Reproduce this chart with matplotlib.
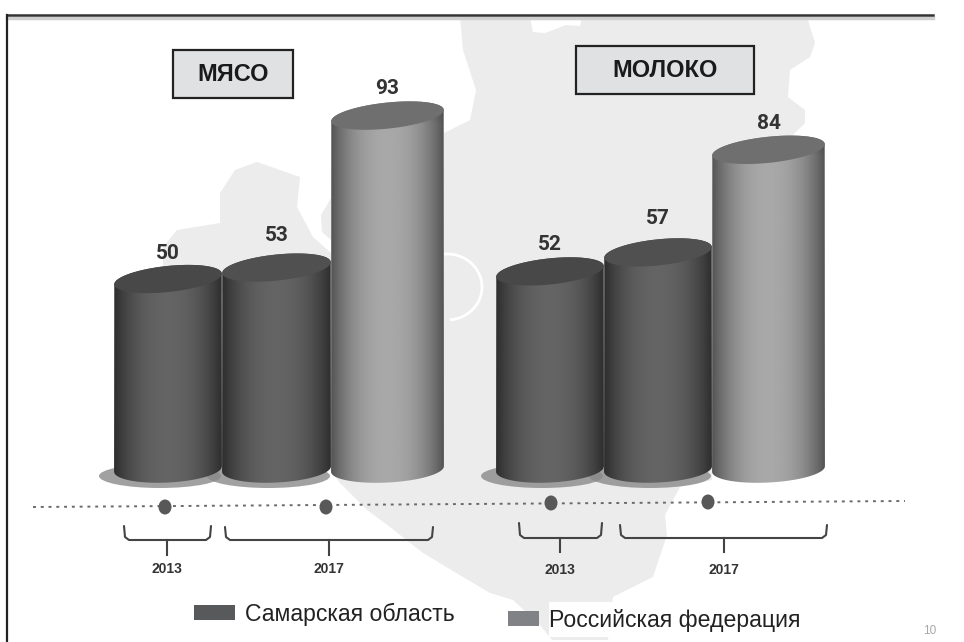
import numpy as np
import matplotlib
matplotlib.use("Agg")
import matplotlib.pyplot as plt
from matplotlib.patches import Polygon, Rectangle, Ellipse

# ---- data
groups = ["МЯСО", "МОЛОКО"]
meat_values = [50, 53, 93]
milk_values = [52, 57, 84]
bar_years = ["2013", "2017"]
legend_labels = ["Самарская область", "Российская федерация"]
page_number = "10"

# ---- layout (pixels of the 964x642 picture)
W, H = 964, 642
BASE_PX = 469.0
PX_PER_UNIT = 3.8
meat_left = [114, 222, 331]
meat_right = [222, 331, 444]
milk_left = [496, 604, 712]
milk_right = [604, 712, 825]

plt.rcParams["font.family"] = ["Liberation Sans", "DejaVu Sans"]
fig = plt.figure(figsize=(W / 100, H / 100), dpi=100, facecolor="white")
ax = fig.add_axes([0, 0, 1, 1])
ax.axis("off")


def set_limits():
    ax.set_xlim(0, W)
    ax.set_ylim((BASE_PX - H) / PX_PER_UNIT, BASE_PX / PX_PER_UNIT)


def py(p):
    """picture pixel row -> value axis"""
    return (BASE_PX - p) / PX_PER_UNIT


def pts(seq):
    return [(x, py(y)) for x, y in seq]


set_limits()

# ---- pale map
map_main = [(460, 17), (807, 17), (815, 43), (810, 57), (790, 70), (788, 97), (805, 110),
            (805, 123), (793, 135), (712, 160), (712, 480), (680, 487), (665, 515),
            (667, 535), (653, 577), (613, 597), (608, 640), (552, 640), (540, 625),
            (513, 600), (490, 593), (463, 577), (423, 553), (390, 527), (367, 510),
            (340, 483), (330, 470), (444, 300), (444, 133), (470, 120), (476, 90), (463, 50)]
map_left = [(235, 170), (257, 162), (300, 177), (297, 207), (313, 237), (331, 253),
            (331, 300), (240, 300), (163, 270), (163, 247), (177, 230), (220, 223), (220, 193)]
map_sliver = [(331, 198), (331, 240), (322, 232), (321, 215)]
for poly in (map_main, map_left, map_sliver):
    ax.add_patch(Polygon(pts(poly), closed=True, fc="#ececec", ec="none", zorder=1))
notch = [(530, 17), (582, 17), (580, 26), (566, 25), (545, 33), (533, 32)]
ax.add_patch(Polygon(pts(notch), closed=True, fc="white", ec="none", zorder=1.1))
ring_t = np.linspace(-1.45, 1.9, 60)
ax.plot(447 + 35 * np.cos(ring_t), py(287) + 33 * np.sin(ring_t) / PX_PER_UNIT,
        color="white", lw=2, zorder=1.2)

# ---- frame and header rule
ax.plot([7, 933], [py(18), py(18)], color="#cfcfcf", lw=2.5, zorder=2)
ax.plot([7, 933], [py(15), py(15)], color="#333333", lw=1.8, zorder=3)
ax.plot([7, 7], [py(15), py(642)], color="#222222", lw=1.6, zorder=3)


def ellipse_xy(cx, cy_px, rx, ry, tilt_deg, n=120):
    t = np.linspace(0, 2 * np.pi, n)
    a = np.deg2rad(tilt_deg)
    ex, ey = rx * np.cos(t), ry * np.sin(t)
    return cx + ex * np.cos(a) - ey * np.sin(a), cy_px + ex * np.sin(a) + ey * np.cos(a)


def cylinder(x0, x1, value, edge, mid, top_col, z, shadow):
    cx, rx = (x0 + x1) / 2, (x1 - x0) / 2
    top_px = BASE_PX - value * PX_PER_UNIT
    if shadow:
        ax.add_patch(Ellipse((cx - 8, py(BASE_PX + 7)), x1 - x0 + 14, 24 / PX_PER_UNIT,
                             fc="#8a8a8a", ec="none", alpha=.8, zorder=4))
    bx, by = ellipse_xy(cx, BASE_PX, rx, 13.5, -3)
    tx, ty = ellipse_xy(cx, top_px, rx, 13, -6)
    lower = list(zip(bx[:61], by[:61]))
    upper = list(zip(tx[60:], ty[60:]))
    outline = Polygon(pts(lower + upper), closed=True, fc="none", ec="none")
    ax.add_patch(outline)
    u = np.linspace(0, 1, 200)
    shade = 1 - np.abs(2 * u - 1) ** 2.2
    col = edge + (mid - edge) * shade
    rows = np.linspace(1, 0, 100)[:, None]
    fade = 1 - 0.22 * np.clip((rows - .93) / .07, 0, 1)
    im = ax.imshow(col[None, :] * fade, cmap="gray", vmin=0, vmax=255, aspect="auto",
                   extent=(x0, x1, py(BASE_PX + 20), py(top_px - 20)), zorder=z,
                   interpolation="bilinear")
    im.set_clip_path(outline)
    ax.fill(tx, py(ty), color=top_col, lw=0, zorder=z + .1)


styles = [(46, 100, "#484848", True), (46, 100, "#505050", True), (84, 168, "#6f6f6f", False)]
for lefts, rights, vals in ((meat_left, meat_right, meat_values), (milk_left, milk_right, milk_values)):
    for i, (a, b, v) in enumerate(zip(lefts, rights, vals)):
        e, m, t, s = styles[i]
        cylinder(a, b, v, e, m, t, 5 + i, s)
set_limits()

# ---- value labels
label_lift = [[26, 32, 27], [27, 34, 26]]
for lefts, rights, vals, lift in ((meat_left, meat_right, meat_values, label_lift[0]),
                                  (milk_left, milk_right, milk_values, label_lift[1])):
    for a, b, v, d in zip(lefts, rights, vals, lift):
        ax.text((a + b) / 2, v + d / PX_PER_UNIT, str(v), ha="center", va="center",
                fontsize=15, fontweight="bold", color="#333333",
                family=["Roboto", "DejaVu Sans"], zorder=12)

# ---- title boxes
for name, (x0, y0, x1, y1) in zip(groups, [(173, 50, 293, 98), (576, 46, 754, 94)]):
    ax.add_patch(Rectangle((x0, py(y1)), x1 - x0, (y1 - y0) / PX_PER_UNIT, fc="#e0e1e3",
                           ec="#222222", lw=1.6, zorder=12))
    ax.text((x0 + x1) / 2, py((y0 + y1) / 2), name, ha="center", va="center", fontsize=17,
            fontweight="bold", color="#1a1a1a", zorder=13)

# ---- dotted timeline
ax.plot([33, 905], [py(507), py(501)], color="#6a6a6a", lw=1.4, ls=(0, (1.5, 2.5)), zorder=8)
for x, y in [(165, 507), (326, 507), (551, 503), (708, 502)]:
    ax.add_patch(Ellipse((x, py(y)), 13, 15 / PX_PER_UNIT, fc="#585858", ec="none", zorder=9))


# ---- year brackets
def bracket(x0, x1, xm, ytop, ymid, ybot, label, ylab):
    ax.plot([x0, x0 + 1, x0 + 5, x1 - 5, x1 - 1, x1],
            [py(ytop), py(ymid - 3), py(ymid), py(ymid), py(ymid - 3), py(ytop)],
            color="#444444", lw=1.5, zorder=9, solid_capstyle="round")
    ax.plot([xm, xm], [py(ymid), py(ybot)], color="#444444", lw=1.5, zorder=9)
    ax.text(xm, py(ylab), label, ha="center", va="center", fontsize=10, fontweight="bold",
            color="#333333", zorder=9)


bracket(124, 211, 167, 526, 540, 555, bar_years[0], 569)
bracket(225, 433, 329, 527, 540, 555, bar_years[1], 569)
bracket(519, 602, 560, 523, 538, 552, bar_years[0], 570)
bracket(620, 827, 724, 525, 538, 552, bar_years[1], 570)

# ---- legend
ax.add_patch(Rectangle((194, py(620)), 41, 15 / PX_PER_UNIT, fc="#58595b", ec="none", zorder=12))
ax.text(245, py(614), legend_labels[0], ha="left", va="center", fontsize=16.6, color="#222222", zorder=13)
ax.add_patch(Rectangle((508, py(626)), 31, 15 / PX_PER_UNIT, fc="#808285", ec="none", zorder=12))
ax.add_patch(Rectangle((549, py(637)), 254, 35 / PX_PER_UNIT, fc="white", ec="none", zorder=12))
ax.text(549, py(620), legend_labels[1], ha="left", va="center", fontsize=16.6, color="#222222", zorder=13)
ax.text(930, py(631), page_number, ha="center", va="center", fontsize=8.5, color="#a8a8a8", zorder=13)

set_limits()
fig.savefig("out.png", dpi=100, facecolor="white")
